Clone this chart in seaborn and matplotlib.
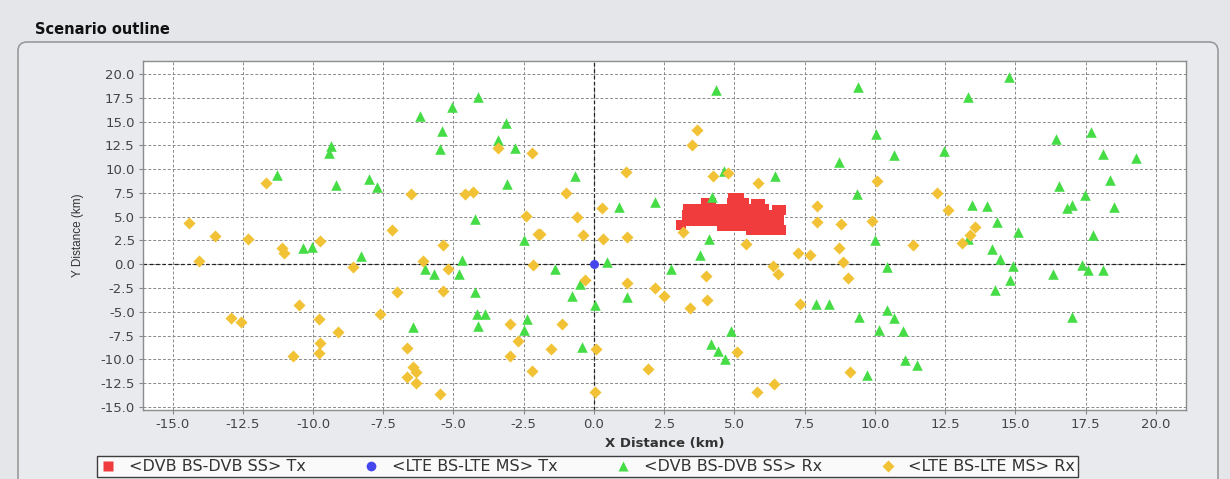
import matplotlib.pyplot as plt
import seaborn as sns
import pandas as pd
from matplotlib.lines import Line2D
from matplotlib.patches import FancyBboxPatch
from matplotlib.transforms import IdentityTransform

# Series labels (legend order)
SERIES = ['<DVB BS-DVB SS> Tx', '<LTE BS-LTE MS> Tx',
          '<DVB BS-DVB SS> Rx', '<LTE BS-LTE MS> Rx']

# DVB Tx - the red blob of squares
dvb_tx_x = [4.95, 5.15,
            4.0, 4.15, 4.9, 5.05, 5.2, 5.35, 5.75, 5.9,
            3.35, 3.5, 3.65, 3.8, 3.95, 4.1, 4.25, 4.4, 4.55, 4.7, 4.85, 5.0, 5.15, 5.3, 5.45, 5.6,
            5.75, 5.9, 6.05, 6.5, 6.65,
            3.3, 3.45, 3.6, 3.75, 3.9, 4.05, 4.2, 4.35, 4.5, 4.65, 4.8, 4.95, 5.1, 5.25, 5.4, 5.55,
            5.7, 5.85, 6.0, 6.15, 6.3, 6.45, 6.6,
            3.45, 3.6, 3.75, 3.9, 4.05, 4.2, 4.35, 4.5, 4.65, 4.8, 4.95, 5.1, 5.25, 5.4, 5.55, 5.7,
            5.85, 6.0, 6.15, 6.3, 6.45, 6.6,
            4.55, 4.7, 4.85, 5.0, 5.15, 5.3, 5.45, 5.6, 5.75, 5.9, 6.05, 6.2, 6.35, 6.5,
            5.6, 5.75, 5.9, 6.05, 6.2, 6.35, 6.5, 6.65,
            3.1]
dvb_tx_y = [6.95, 6.95,
            6.45, 6.45, 6.45, 6.45, 6.45, 6.45, 6.3, 6.3,
            5.8, 5.8, 5.8, 5.8, 5.8, 5.8, 5.8, 5.8, 5.8, 5.8, 5.8, 5.8, 5.8, 5.8, 5.8, 5.8,
            5.8, 5.8, 5.8, 5.65, 5.65,
            5.15, 5.15, 5.15, 5.15, 5.15, 5.15, 5.15, 5.15, 5.15, 5.15, 5.15, 5.15, 5.15, 5.15, 5.15, 5.15,
            5.15, 5.15, 5.15, 5.15, 5.15, 5.15, 5.15,
            4.55, 4.55, 4.55, 4.55, 4.55, 4.55, 4.55, 4.55, 4.55, 4.55, 4.55, 4.55, 4.55, 4.55, 4.55, 4.55,
            4.55, 4.55, 4.55, 4.55, 4.55, 4.55,
            4.0, 4.0, 4.0, 4.0, 4.0, 4.0, 4.0, 4.0, 4.0, 4.0, 4.0, 4.0, 4.0, 4.0,
            3.55, 3.55, 3.55, 3.55, 3.55, 3.55, 3.55, 3.55,
            4.1]

# LTE Tx - single base station at origin
lte_tx_x = [0.0]
lte_tx_y = [0.0]

# DVB Rx - green triangles
dvb_rx_x = [-4.12, -5.06, -6.2, -3.13, -5.4, -3.4, -2.8, -5.48, -9.37, -9.43,
            -11.27, -9.19, -8.0, -7.73, -3.1, -4.23, -10.35, -10.05, -8.3, -4.7,
            -6.0, -5.7, -4.79, -2.5, -4.23, -4.17, -3.88, -6.43, -4.12, -2.4,
            -2.48, 4.34, 9.38, 10.04, 10.69, 8.73, -0.68, 4.63, 6.44, 9.35,
            2.17, 0.9, 4.19, 4.09, 10.0, 3.77, -1.39, 0.47, 2.74, 10.42,
            -0.5, -0.79, 1.16, 0.04, 7.9, 8.37, 4.86, -0.44, 4.16, 4.4,
            4.66, 9.44, 10.42, 10.68, 10.15, 11.0, 11.07, 9.7, 11.48, 14.78,
            13.32, 16.44, 17.7, 12.47, 18.13, 19.3, 16.55, 18.36, 17.47, 16.82,
            17.0, 18.5, 13.44, 14.0, 14.35, 15.1, 13.32, 14.15, 14.45, 14.9,
            14.8, 14.27, 17.77, 16.35, 17.36, 17.6, 18.13, 17.0]
dvb_rx_y = [17.6, 16.5, 15.6, 14.9, 14.0, 13.05, 12.2, 12.1, 12.45, 11.7,
            9.37, 8.3, 8.95, 8.14, 8.4, 4.8, 1.7, 1.85, 0.87, 0.42,
            -0.53, -1.05, -0.98, 2.5, -2.9, -5.2, -5.2, -6.6, -6.5, -5.8,
            -6.9, 18.3, 18.6, 13.7, 11.5, 10.8, 9.26, 9.8, 9.26, 7.37,
            6.56, 6.0, 7.1, 2.7, 2.5, 0.95, -0.46, 0.25, -0.53, -0.28,
            -2.1, -3.37, -3.44, -4.3, -4.14, -4.2, -7.0, -8.7, -8.42, -9.1,
            -9.93, -5.6, -4.84, -5.7, -6.95, -7.02, -10.1, -11.6, -10.6, 19.7,
            17.6, 13.2, 13.9, 11.9, 11.6, 11.2, 8.25, 8.84, 7.26, 5.9,
            6.2, 6.04, 6.2, 6.1, 4.45, 3.4, 2.7, 1.65, 0.6, -0.2,
            -1.68, -2.74, 3.05, -1.05, -0.1, -0.63, -0.56, -5.6]

# LTE Rx - yellow diamonds
lte_rx_x = [-3.4, -2.2, -11.67, -6.52, -4.59, -4.3, -2.42, -14.4, -7.18, -13.5,
            -12.3, -11.1, -11.03, -9.75, -14.05, -8.57, -5.38, -6.1, -5.18, -2.16,
            -1.98, -7.0, -5.38, -10.5, -7.6, -12.93, -12.56, -9.78, -9.12, -2.99,
            -9.75, -9.8, -10.7, -6.67, -2.69, -2.99, -6.43, -6.33, -6.67, -6.33,
            -2.2, -5.48, 3.65, 3.48, 1.14, 4.25, 4.77, 5.82, 10.06, -1.0,
            0.27, -0.62, 7.93, 7.93, 8.78, 9.88, -1.92, -0.38, 0.33, 1.19,
            3.18, 5.4, 7.27, 7.69, 8.73, 11.36, 3.99, 6.38, 6.56, 8.85,
            9.05, -0.32, 1.19, 2.17, 2.49, 4.03, 3.42, 7.33, -1.15, -1.54,
            0.07, 5.1, 1.93, 6.4, 5.81, 0.04, 9.11, 12.22, 12.6, 13.56,
            13.38, 13.09]
lte_rx_y = [12.2, 11.7, 8.5, 7.37, 7.37, 7.55, 5.1, 4.35, 3.6, 2.95,
            2.7, 1.7, 1.23, 2.45, 0.35, -0.28, 2.0, 0.35, -0.53, -0.1,
            3.2, -2.9, -2.8, -4.3, -5.2, -5.65, -6.07, -5.8, -7.1, -6.25,
            -8.3, -9.3, -9.6, -8.8, -8.07, -9.6, -10.8, -11.3, -11.9, -12.5,
            -11.2, -13.7, 14.1, 12.5, 9.7, 9.26, 9.6, 8.5, 8.77, 7.5,
            5.86, 4.98, 6.1, 4.45, 4.2, 4.56, 3.23, 3.05, 2.7, 2.87,
            3.4, 2.1, 1.23, 0.95, 1.75, 2.0, -1.26, -0.18, -1.05, 0.25,
            -1.5, -1.7, -1.96, -2.45, -3.37, -3.8, -4.56, -4.2, -6.25, -8.87,
            -8.87, -9.2, -11.0, -12.56, -13.4, -13.4, -11.3, 7.44, 5.75, 3.93,
            3.05, 2.24]

TICKS = [-15.0, -12.5, -10.0, -7.5, -5.0, -2.5, 0.0, 2.5, 5.0, 7.5, 10.0, 12.5, 15.0, 17.5, 20.0]

COLORS = ['#f03c3c', '#4545ee', '#46dc46', '#f1c236']
MARKERS = ['s', 'o', '^', 'D']
SIZES = [44, 42, 58, 38]

W, H = 1230, 479
BG = '#e5e6ea'


def build_frame():
    parts = []
    for name, xs, ys in zip(SERIES,
                            [dvb_tx_x, lte_tx_x, dvb_rx_x, lte_rx_x],
                            [dvb_tx_y, lte_tx_y, dvb_rx_y, lte_rx_y]):
        parts.append(pd.DataFrame({'x': xs, 'y': ys, 'series': name}))
    return pd.concat(parts, ignore_index=True)


def main():
    sns.set_theme(style='white')
    plt.rcParams['font.family'] = ['DejaVu Sans']

    df = build_frame()

    fig = plt.figure(figsize=(W / 100, H / 100), dpi=100, facecolor=BG)

    # rounded panel behind the chart (pixel coords), kept under the axes
    panel = FancyBboxPatch((18, -30), 1200, H - 42 + 30,
                           boxstyle='round,pad=0,rounding_size=9',
                           transform=IdentityTransform(),
                           facecolor='#e9eaee', edgecolor='#9a9a9a', lw=1.2,
                           zorder=-10)
    fig.patches.append(panel)

    fig.text(35 / W, 1 - 30 / H, 'Scenario outline', fontsize=10.5,
             fontweight='bold', va='center', color='#111111')

    ax = fig.add_axes([143 / W, 1 - 410 / H, (1186 - 143) / W, (410 - 61) / H])
    ax.set_facecolor('white')

    # draw Rx first so the Tx markers sit on top
    for i in [3, 2, 0, 1]:
        sub = df[df['series'] == SERIES[i]]
        sns.scatterplot(data=sub, x='x', y='y', ax=ax, marker=MARKERS[i],
                        color=COLORS[i], s=SIZES[i], linewidth=0, legend=False,
                        zorder=3 + i)

    ax.set_xlim(-16.05, 21.07)
    ax.set_ylim(-15.33, 21.37)
    ax.set_xticks(TICKS)
    ax.set_yticks(TICKS)
    ax.set_xticklabels([f'{t:.1f}' for t in TICKS])
    ax.set_yticklabels([f'{t:.1f}' for t in TICKS])
    ax.tick_params(axis='both', which='both', direction='out', length=3,
                   width=0.8, color='#888888', labelsize=9.5,
                   labelcolor='#444444', pad=3, bottom=True, left=True)

    ax.grid(True, linestyle=(0, (3, 2)), color='#8a8a8a', linewidth=0.7)
    ax.axhline(0, linestyle=(0, (3, 2)), color='#222222', linewidth=0.9, zorder=2)
    ax.axvline(0, linestyle=(0, (3, 2)), color='#222222', linewidth=0.9, zorder=2)
    ax.set_axisbelow(True)

    for sp in ax.spines.values():
        sp.set_color('#8c8c8c')
        sp.set_linewidth(1.0)

    ax.set_xlabel('X Distance (km)', fontsize=9.5, fontweight='bold',
                  color='#333333', labelpad=4)
    ax.set_ylabel('Y Distance (km)', fontsize=8.5, color='#333333',
                  family=['Liberation Sans', 'DejaVu Sans'], labelpad=12)

    handles = [Line2D([0], [0], marker=MARKERS[i], color='none',
                      markerfacecolor=COLORS[i], markeredgecolor='none',
                      markersize=7 if i != 3 else 6)
               for i in range(4)]
    leg = fig.legend(handles, SERIES, loc='upper left',
                     bbox_to_anchor=(97 / W, 1 - 456 / H), ncol=4,
                     fontsize=11.5, frameon=True, fancybox=False,
                     handlelength=1.0, handletextpad=0.8, columnspacing=3.6,
                     borderpad=0.2, borderaxespad=0)
    leg.get_frame().set_edgecolor('#111111')
    leg.get_frame().set_linewidth(1.0)
    leg.get_frame().set_facecolor('white')
    for t in leg.get_texts():
        t.set_color('#333333')

    fig.savefig('out.png', dpi=100, facecolor=BG)
    plt.close(fig)


if __name__ == '__main__':
    main()
